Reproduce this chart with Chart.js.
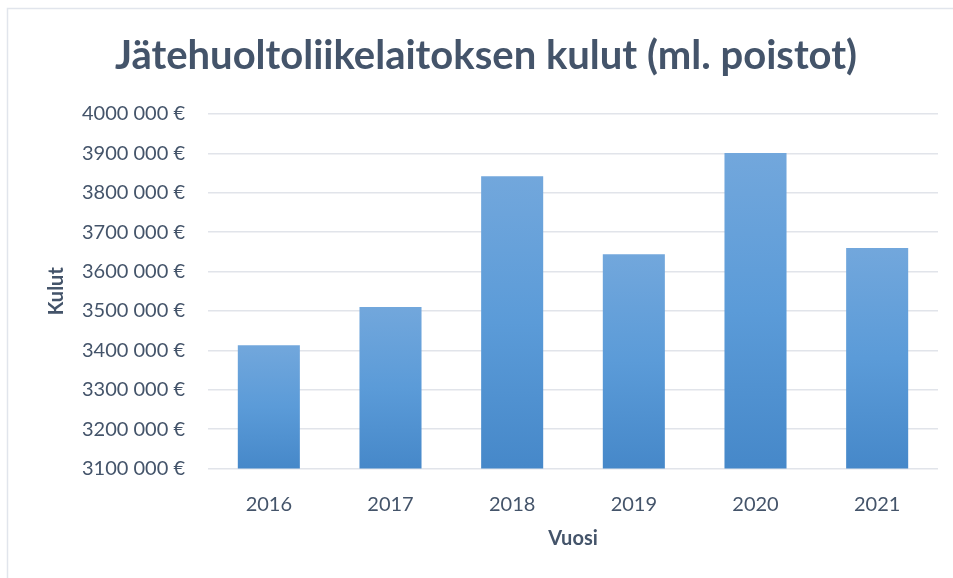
<!DOCTYPE html>
<html>
<head>
<meta charset="utf-8">
<script src="https://cdn.jsdelivr.net/npm/chart.js@4"></script>
<style>
  html, body { margin: 0; padding: 0; background: #fff; }
  #wrap { width: 953px; height: 578px; position: relative; }
</style>
</head>
<body>
<div id="wrap"><canvas id="c" width="953" height="578"></canvas></div>
<script>
// Data
const years = ['2016', '2017', '2018', '2019', '2020', '2021'];
const costs = [3413000, 3510000, 3842000, 3644000, 3901000, 3660000];
const yMin = 3100000;
const yMax = 4000000;
const yStep = 100000;

const TEXT = '#44546a';
const FONT = 'Lato, "Open Sans", sans-serif';

// "4000 000 €" style labels (only the last group is split off)
function euro(v) {
  return Math.floor(v / 1000) + ' ' + String(Math.round(v % 1000)).padStart(3, '0') + ' €';
}

// per-bar vertical gradient, lighter at the top
function barFill(ctx) {
  const chart = ctx.chart;
  const area = chart.chartArea;
  if (!area || ctx.raw == null) return '#5b9bd5';
  const top = chart.scales.y.getPixelForValue(ctx.raw);
  const g = chart.ctx.createLinearGradient(0, top, 0, area.bottom);
  g.addColorStop(0, '#72a7dc');
  g.addColorStop(0.5, '#5b9bd8');
  g.addColorStop(1, '#4688c9');
  return g;
}

const frame = {
  id: 'frame',
  beforeDraw(chart) {
    const c = chart.ctx;
    c.save();
    c.strokeStyle = '#e1e5ec';
    c.lineWidth = 1.5;
    c.beginPath();
    c.moveTo(7.5, 578);
    c.lineTo(7.5, 8.5);
    c.lineTo(953, 8.5);
    c.stroke();
    c.restore();
  }
};

new Chart(document.getElementById('c'), {
  type: 'bar',
  data: {
    labels: years,
    datasets: [{
      data: costs,
      backgroundColor: barFill,
      barPercentage: 0.51,
      categoryPercentage: 1
    }]
  },
  options: {
    responsive: false,
    animation: false,
    // left padding shifts the title centre to match the reference
    layout: { padding: { left: 19, right: 0, top: 10, bottom: 0 } },
    plugins: {
      legend: { display: false },
      tooltip: { enabled: false },
      title: {
        display: true,
        text: 'Jätehuoltoliikelaitoksen kulut (ml. poistot)',
        color: TEXT,
        font: { family: FONT, size: 40, weight: 'bold' },
        padding: { top: 22, bottom: 34 }
      }
    },
    scales: {
      x: {
        grid: { display: false },
        border: { display: false },
        ticks: { color: TEXT, font: { family: FONT, size: 20 }, padding: 16 },
        title: {
          display: true, text: 'Vuosi', color: TEXT,
          font: { family: FONT, size: 20, weight: 'bold' },
          padding: { top: 0, bottom: 27 }
        },
        afterFit(s) { s.height = 109.5; }
      },
      y: {
        min: yMin, max: yMax,
        border: { display: false },
        grid: { color: '#e1e4ea', lineWidth: 1.5, drawTicks: false },
        ticks: {
          stepSize: yStep, color: TEXT, padding: 23,
          font: { family: FONT, size: 20 },
          callback: v => euro(v)
        },
        title: {
          display: true, text: 'Kulut', color: TEXT,
          font: { family: FONT, size: 20, weight: 'bold' },
          padding: { top: 26, bottom: 0 }
        },
        afterFit(s) { s.width = 189; }
      },
      // empty spacer on the right, keeps plot edge at x=938
      spacer: {
        type: 'linear',
        position: 'right',
        grid: { display: false },
        border: { display: false },
        ticks: { display: false },
        afterFit(s) { s.width = 15; }
      }
    }
  },
  plugins: [frame]
});
</script>
</body>
</html>
